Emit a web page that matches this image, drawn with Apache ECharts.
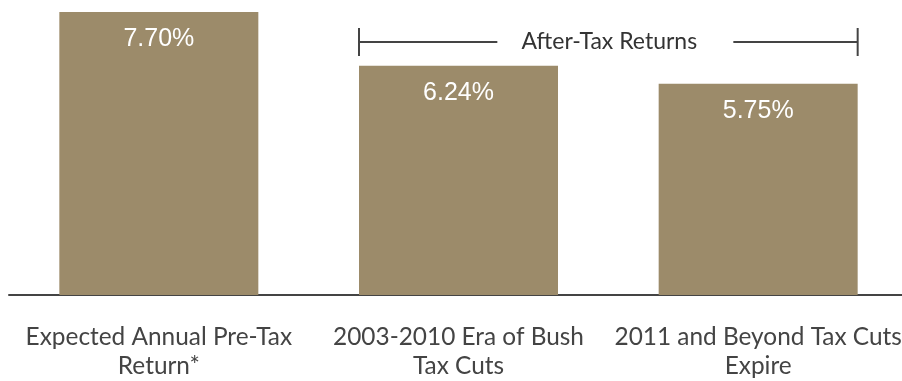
<!DOCTYPE html>
<html>
<head>
<meta charset="utf-8">
<script src="https://cdn.jsdelivr.net/npm/echarts@6/dist/echarts.min.js"></script>
<style>
  html, body { margin: 0; padding: 0; background: #fff; }
  #chart { width: 902px; height: 381px; }
</style>
</head>
<body>
<div id="chart"></div>
<script>
// chart data
const categories = [
  'Expected Annual Pre-Tax\nReturn*',
  '2003-2010 Era of Bush\nTax Cuts',
  '2011 and Beyond Tax Cuts\nExpire'
]
const returns = [7.70, 6.24, 5.75]
const bracketLabel = 'After-Tax Returns'
const bracketFrom = 1 // first bar under the bracket
const bracketTo = 2   // last bar under the bracket

const barColor = '#9c8b6a'
const lineColor = '#444'
const barWidth = 199

const chart = echarts.init(document.getElementById('chart'))

chart.setOption({
  animation: false,
  grid: { left: 9, top: 12, width: 899, height: 283, outerBoundsMode: 'none', containLabel: false },
  xAxis: {
    type: 'category',
    data: categories,
    axisTick: { show: false },
    axisLine: { lineStyle: { color: lineColor, width: 2 } },
    axisLabel: {
      interval: 0,
      margin: 28,
      color: '#444',
      fontFamily: 'Lato',
      fontSize: 24.4,
      lineHeight: 29
    }
  },
  yAxis: {
    type: 'value',
    min: 0,
    max: 'dataMax',
    show: false,
    splitLine: { show: false }
  },
  series: [
    {
      type: 'bar',
      data: returns,
      barWidth: barWidth,
      itemStyle: { color: barColor },
      label: {
        show: true,
        position: 'insideTop',
        distance: 15,
        color: '#fff',
        fontFamily: 'Liberation Sans, Arial',
        fontSize: 25,
        formatter: (p) => p.value.toFixed(2) + '%'
      }
    }
  ]
})

// bracket over the after-tax bars
function drawBracket() {
  const x1 = chart.convertToPixel({ xAxisIndex: 0 }, categories[bracketFrom]) - barWidth / 2
  const x2 = chart.convertToPixel({ xAxisIndex: 0 }, categories[bracketTo]) + barWidth / 2
  const y = 42
  const mid = (x1 + x2) / 2
  const style = { stroke: lineColor, lineWidth: 2 }
  chart.setOption({
    graphic: [
      { type: 'line', shape: { x1: x1, y1: y - 14, x2: x1, y2: y + 14 }, style: style },
      { type: 'line', shape: { x1: x1, y1: y, x2: mid - 111, y2: y }, style: style },
      { type: 'line', shape: { x1: mid + 125, y1: y, x2: x2, y2: y }, style: style },
      { type: 'line', shape: { x1: x2, y1: y - 14, x2: x2, y2: y + 14 }, style: style },
      {
        type: 'text',
        x: mid + 1,
        y: y,
        style: {
          text: bracketLabel,
          fill: '#333',
          font: '23px Lato',
          align: 'center',
          verticalAlign: 'middle'
        }
      }
    ]
  })
}
drawBracket()
</script>
</body>
</html>
